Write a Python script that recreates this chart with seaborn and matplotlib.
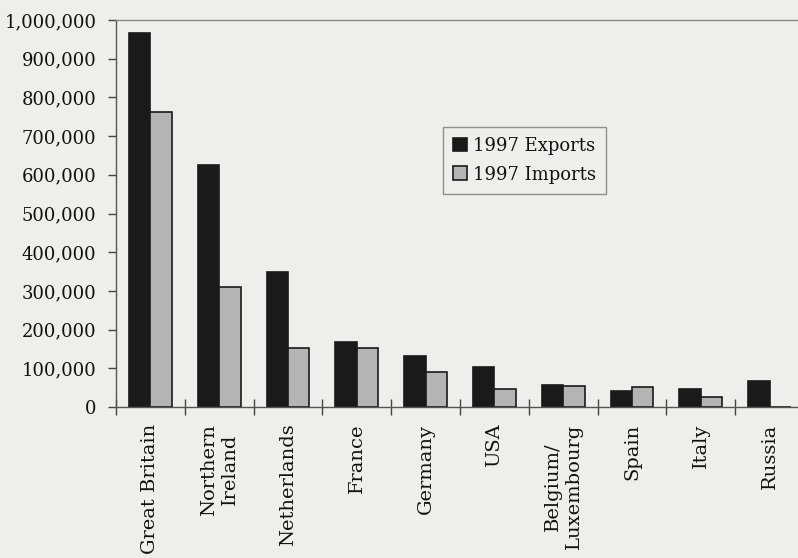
import pandas as pd
import seaborn as sns
import matplotlib.pyplot as plt
from matplotlib.ticker import FuncFormatter, FixedLocator

countries = ["Great Britain", "Northern\nIreland", "Netherlands", "France", "Germany",
             "USA", "Belgium/\nLuxembourg", "Spain", "Italy", "Russia"]
exports_1997 = [966000, 625000, 349000, 168000, 132000, 103000, 57000, 41000, 47000, 67000]
imports_1997 = [762000, 310000, 152000, 152000, 90000, 47000, 54000, 52000, 26000, 0]

df = pd.DataFrame({
    "country": countries * 2,
    "value": exports_1997 + imports_1997,
    "series": ["1997 Exports"] * len(countries) + ["1997 Imports"] * len(countries),
})

bg = "#eeeeec"
sns.set_theme(style="white")
plt.rcParams["font.family"] = ["DejaVu Serif"]

fig = plt.figure(figsize=(7.98, 5.58), dpi=100, facecolor=bg)
ax = fig.add_axes([116 / 798, 1 - 407 / 558, 688 / 798, 387 / 558])
ax.set_facecolor(bg)

sns.barplot(data=df, x="country", y="value", hue="series",
            palette={"1997 Exports": "#1a1a1a", "1997 Imports": "#b4b4b4"},
            width=0.62, edgecolor="#1a1a1a", linewidth=1.2, ax=ax)

ax.set_xlim(-0.5, len(countries) - 0.5)
ax.set_ylim(0, 1000000)
ax.yaxis.set_major_locator(FixedLocator(range(0, 1000001, 100000)))
ax.yaxis.set_major_formatter(FuncFormatter(lambda v, p: f"{int(v):,}"))
ax.tick_params(axis="y", labelsize=13, length=6, width=1, color="#444444",
               direction="out", pad=8, labelcolor="#111111", left=True)

ax.set_xticks(range(len(countries)))
ax.set_xticklabels(countries, rotation=90, fontsize=14, color="#111111",
                   va="top", ha="center", multialignment="center")
ax.tick_params(axis="x", length=0, pad=12)
ax.set_xticks([i + 0.5 for i in range(-1, len(countries))], minor=True)
ax.tick_params(axis="x", which="minor", length=12, width=1, color="#444444",
               direction="inout", bottom=True)

for s in ["left", "bottom"]:
    ax.spines[s].set_color("#555555")
    ax.spines[s].set_linewidth(1)
ax.spines["top"].set_color("#888888")
ax.spines["top"].set_linewidth(1)
ax.spines["right"].set_visible(False)

ax.set_xlabel("")
ax.set_ylabel("")

leg = ax.legend(loc="upper left", bbox_to_anchor=(0.475, 0.724), fontsize=13,
                frameon=True, fancybox=False, edgecolor="#777777", facecolor=bg,
                handlelength=0.8, handleheight=0.8, handletextpad=0.3,
                borderpad=0.55, labelspacing=0.6, borderaxespad=0)
leg.get_frame().set_linewidth(1)
for t in leg.get_texts():
    t.set_color("#111111")

fig.savefig("out.png", dpi=100, facecolor=bg)
